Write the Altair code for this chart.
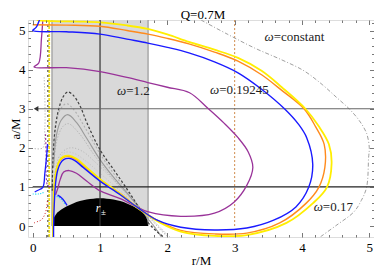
import altair as alt
import pandas as pd

# ---------------- data ----------------
title_text = "Q=0.7M"
x_title = "r/M"
y_title = "a/M"
x_labels = [0, 1, 2, 3, 4, 5]
y_labels = [0, 1, 2, 3, 4, 5]
x_minor = [round(i * 0.2, 1) for i in range(26)]
y_minor = [round(i * 0.2, 1) for i in range(27)]

# region between horizons (grey band)
band_r = [0.286]
band_r2 = [1.714]
band_a = [0.0]
band_a2 = [5.27]

# black region
black_r = [0.286, 0.30, 0.35, 0.40, 0.50, 0.60, 0.70, 0.80, 0.90, 1.00, 1.10, 1.20, 1.30, 1.40, 1.50, 1.60, 1.65, 1.70, 1.714]
black_a = [0.0, 0.13, 0.31, 0.39, 0.50, 0.58, 0.64, 0.68, 0.70, 0.71, 0.70, 0.68, 0.64, 0.58, 0.50, 0.39, 0.31, 0.16, 0.0]

# coloured omega curves
yellow_r = [0.06, 0.3, 0.7, 1.0, 1.4, 1.71, 2.0, 2.32, 2.7, 3.05, 3.4, 3.7, 4.05, 4.25, 4.4, 4.44, 4.37, 4.16, 3.77, 3.18, 2.7, 2.2, 1.9, 1.57, 1.3, 1.0, 0.8, 0.65, 0.54, 0.45, 0.4, 0.36, 0.33, 0.31, 0.3, 0.3]
yellow_a = [5.27, 5.24, 5.23, 5.21, 5.13, 5.04, 4.9, 4.71, 4.51, 4.3, 3.97, 3.55, 3.0, 2.55, 2.09, 1.6, 0.99, 0.58, 0.08, -0.23, -0.25, -0.14, 0.08, 0.45, 0.82, 1.2, 1.5, 1.72, 1.8, 1.77, 1.68, 1.5, 1.2, 0.6, 0.0, -0.3]

orange_r = [0.0, 0.5, 1.0, 1.4, 1.71, 2.0, 2.32, 2.7, 3.05, 3.4, 3.7, 4.03, 4.2, 4.33, 4.34, 4.25, 4.06, 3.67, 3.18, 2.7, 2.2, 1.9, 1.57, 1.3, 1.0, 0.8, 0.65, 0.54, 0.45, 0.4, 0.36, 0.33, 0.31, 0.3, 0.3]
orange_a = [5.15, 5.14, 5.11, 5.0, 4.91, 4.8, 4.66, 4.45, 4.22, 3.87, 3.47, 3.0, 2.55, 2.09, 1.5, 0.99, 0.58, 0.08, -0.18, -0.2, -0.11, 0.1, 0.46, 0.83, 1.19, 1.48, 1.7, 1.78, 1.75, 1.66, 1.48, 1.18, 0.58, 0.0, -0.3]

blue_r = [0.10, 0.05, 0.0, 0.5, 1.0, 1.4, 1.71, 2.0, 2.32, 2.7, 3.05, 3.4, 3.74, 3.95, 4.07, 4.16, 4.1, 3.91, 3.58, 3.18, 2.7, 2.2, 1.85, 1.57, 1.3, 1.0, 0.75, 0.62, 0.54, 0.46, 0.41, 0.37, 0.34, 0.32, 0.31, 0.31]
blue_a = [5.27, 5.08, 5.0, 4.97, 4.91, 4.78, 4.68, 4.57, 4.43, 4.2, 3.92, 3.5, 3.0, 2.6, 2.26, 1.58, 0.99, 0.49, 0.15, -0.05, -0.1, -0.03, 0.15, 0.46, 0.8, 1.15, 1.5, 1.68, 1.73, 1.7, 1.6, 1.42, 1.1, 0.55, 0.0, -0.3]

purple_r = [0.15, 0.13, 0.09, 0.02, 0.5, 1.0, 1.4, 1.71, 2.0, 2.33, 2.61, 2.85, 3.05, 3.2, 3.27, 3.18, 2.99, 2.7, 2.2, 1.72, 1.3, 0.98, 0.8, 0.65, 0.54, 0.46, 0.41, 0.37, 0.34]
purple_a = [5.27, 4.8, 4.17, 4.07, 4.05, 3.95, 3.8, 3.67, 3.55, 3.41, 3.0, 2.62, 2.26, 1.9, 1.5, 1.04, 0.61, 0.33, 0.25, 0.36, 0.7, 0.92, 1.15, 1.35, 1.42, 1.38, 1.2, 0.95, 0.8]

# grey family inside the band
g1_r = [0.29, 0.30, 0.33, 0.38, 0.45, 0.52, 0.60, 0.70, 0.81, 1.0, 1.2, 1.38, 1.55, 1.71, 1.85, 1.96]
g1_a = [0.9, 1.68, 2.44, 2.95, 3.3, 3.43, 3.35, 3.08, 2.62, 1.95, 1.45, 1.0, 0.55, 0.1, -0.15, -0.3]
g2_r = [0.30, 0.34, 0.40, 0.50, 0.60, 0.80, 1.0, 1.2, 1.4, 1.6, 1.8, 1.93]
g2_a = [1.5, 2.5, 2.95, 3.13, 3.0, 2.45, 1.85, 1.35, 0.9, 0.45, 0.0, -0.3]
g3_r = [0.31, 0.35, 0.42, 0.52, 0.65, 0.8, 1.0, 1.2, 1.4, 1.6, 1.8, 1.92]
g3_a = [1.5, 2.3, 2.7, 2.85, 2.65, 2.25, 1.7, 1.25, 0.85, 0.42, 0.0, -0.3]
g4_r = [0.31, 0.36, 0.45, 0.53, 0.7, 0.9, 1.1, 1.3, 1.5, 1.7, 1.9, 2.02]
g4_a = [1.5, 2.2, 2.55, 2.62, 2.35, 1.85, 1.4, 1.0, 0.63, 0.28, -0.1, -0.3]
g5_r = [0.32, 0.40, 0.50, 0.60, 0.75, 0.9, 1.1, 1.3, 1.5, 1.7, 1.9, 2.05]
g5_a = [1.3, 1.8, 1.97, 2.0, 1.9, 1.68, 1.35, 1.0, 0.65, 0.3, -0.05, -0.3]
g6_r = [0.33, 0.40, 0.48, 0.6, 0.8, 1.0, 1.2, 1.4, 1.6, 1.8, 2.0]
g6_a = [1.3, 1.7, 1.88, 1.87, 1.65, 1.35, 1.05, 0.75, 0.45, 0.12, -0.25]

# omega = constant envelope
wc_r = [2.5, 2.9, 3.3, 3.7, 4.03, 4.3, 4.52, 4.7, 4.85, 4.96, 5.0, 4.99, 4.96, 4.88, 4.77, 4.52, 4.27]
wc_a = [5.27, 4.9, 4.55, 4.25, 3.97, 3.62, 3.28, 3.0, 2.7, 2.37, 2.0, 1.76, 0.99, 0.65, 0.36, 0.03, -0.28]

# small features near r = 0
blueL_r = [0.03, 0.07, 0.15, 0.18, 0.21, 0.22]
blueL_a = [0.87, 0.91, 0.99, 1.35, 1.86, 2.1]
blueH_r = [0.37, 0.43, 0.47, 0.51]
blueH_a = [0.79, 0.72, 0.64, 0.53]
cyanL_r = [0.0, 0.08, 0.14, 0.18]
cyanL_a = [0.82, 0.82, 0.84, 0.88]
cyanG_r = [0.32, 0.38, 0.44, 0.48]
cyanG_a = [0.78, 0.74, 0.66, 0.56]
red_r = [0.02, 0.08, 0.13, 0.18, 0.21, 0.22]
red_a = [0.08, 0.12, 0.16, 0.3, 0.5, 0.7]
purpD_r = [0.19, 0.2, 0.2, 0.22, 0.28]
purpD_a = [2.35, 1.8, 1.3, 1.05, 0.98]
greyL_r = [0.03, 0.15, 0.18, 0.18, 0.17]
greyL_a = [1.98, 2.0, 2.5, 3.3, 3.8]

# reference lines
h1_a = [1.0]; h1_r = [0.0]; h1_r2 = [5.07]
h3_a = [3.0]; h3_r = [0.05]; h3_r2 = [5.07]
v1_r = [1.0]; v1_a = [0.0]; v1_a2 = [5.27]
edge_r = [0.286, 1.714]
vy_r = [0.245]; vk_r = [0.225]; vfull_a = [-0.28]; vfull_a2 = [5.27]
v3_r = [3.0]; v3_a = [0.0]; v3_a2 = [5.27]

# text labels (split point after omega)
lab_r = [1.39, 2.77, 3.58, 4.31]
lab_a = [3.46, 3.49, 4.83, 0.48]
lab_rest = ["=1.2", "=0.19245", "=constant", "=0.17"]

# ---------------- chart ----------------
W, H = 346, 217
FONT = "Liberation Serif"
xs = alt.Scale(domain=[-0.07, 5.07], nice=False, zero=False)
ys = alt.Scale(domain=[-0.28, 5.27], nice=False, zero=False)
X = lambda f: alt.X(f, type="quantitative", scale=xs, axis=None)
Y = lambda f: alt.Y(f, type="quantitative", scale=ys, axis=None)


def curve(r, a, color, width=1.3, dash=None, op=1.0, interp="catmull-rom"):
    df = pd.DataFrame({"r": r, "a": a, "i": list(range(len(r)))})
    kw = dict(color=color, strokeWidth=width, clip=True, opacity=op, interpolate=interp)
    if dash:
        kw["strokeDash"] = dash
    return alt.Chart(df).mark_line(**kw).encode(x=X("r"), y=Y("a"), order="i:Q")


def vrule(r, a, a2, color, width=1.0, dash=None):
    n = len(r)
    df = pd.DataFrame({"r": r, "a": (a * n)[:n], "a2": (a2 * n)[:n]})
    kw = dict(color=color, strokeWidth=width, clip=True)
    if dash:
        kw["strokeDash"] = dash
    return alt.Chart(df).mark_rule(**kw).encode(x=X("r"), y=Y("a"), y2="a2")


def hrule(a, r, r2, color, width=1.0):
    df = pd.DataFrame({"a": a, "r": r, "r2": r2})
    return alt.Chart(df).mark_rule(color=color, strokeWidth=width, clip=True).encode(
        y=Y("a"), x=X("r"), x2="r2")


band = alt.Chart(pd.DataFrame({"r": band_r, "r2": band_r2, "a": band_a, "a2": band_a2})).mark_rect(
    color="#d9d9d9").encode(x=X("r"), x2="r2", y=Y("a"), y2="a2")

black = alt.Chart(pd.DataFrame({"r": black_r, "a": black_a, "z": [0.0] * len(black_r)})).mark_area(
    color="black", interpolate="monotone").encode(x=X("r"), y=Y("a"), y2="z")

arrow = alt.Chart(pd.DataFrame({"r": h3_r, "a": h3_a})).mark_point(
    shape="triangle-left", filled=True, color="#333", size=28, opacity=1).encode(x=X("r"), y=Y("a"))

labdf = pd.DataFrame({"r": lab_r, "a": lab_a, "w": ["ω"] * 4, "t": lab_rest})
omega = alt.Chart(labdf).mark_text(font=FONT, fontSize=13, fontStyle="italic", align="right",
                                   baseline="middle", color="#222").encode(x=X("r"), y=Y("a"), text="w:N")
rest = alt.Chart(labdf).mark_text(font=FONT, fontSize=13, align="left", baseline="middle",
                                  color="#222").encode(x=X("r"), y=Y("a"), text="t:N")
rpm = alt.Chart(pd.DataFrame({"r": [0.97], "a": [0.47], "t": ["r"]})).mark_text(
    font=FONT, fontSize=12, fontStyle="italic", color="white", baseline="middle").encode(
    x=X("r"), y=Y("a"), text="t:N")
rpm2 = alt.Chart(pd.DataFrame({"r": [1.05], "a": [0.37], "t": ["±"]})).mark_text(
    font=FONT, fontSize=9, color="white", baseline="middle").encode(x=X("r"), y=Y("a"), text="t:N")

# chart title as a text mark just above the frame
title_mark = alt.Chart(pd.DataFrame({"t": [title_text]})).mark_text(
    font=FONT, fontSize=13, color="black", baseline="alphabetic", align="center").encode(
    x=alt.value(W / 2 + 2), y=alt.value(-1), text="t:N")

# axes layers
anchor = pd.DataFrame({"r": [0.0], "a": [0.0]})
lab_axis_x = alt.Axis(orient="bottom", values=x_labels, ticks=False, tickSize=0, domain=False, grid=False,
                      labelFont=FONT, labelFontSize=13, labelColor="black", labelPadding=4, labelFlush=False,
                      titleFont=FONT, titleFontSize=13, titleFontWeight="normal", titleColor="black",
                      titleY=27, titleBaseline="alphabetic")
lab_axis_y = alt.Axis(orient="left", values=y_labels, ticks=False, tickSize=0, domain=False, grid=False,
                      labelFont=FONT, labelFontSize=13, labelColor="black", labelPadding=3, labelFlush=False,
                      titleFont=FONT, titleFontSize=13, titleFontWeight="normal", titleColor="black",
                      titleX=-9, titleY=H / 2, titleBaseline="alphabetic")
lab_layer = alt.Chart(anchor).mark_point(opacity=0).encode(
    x=alt.X("r:Q", scale=xs, title=x_title, axis=lab_axis_x),
    y=alt.Y("a:Q", scale=ys, title=y_title, axis=lab_axis_y))

tick_size = {"condition": {"test": "abs(datum.value - round(datum.value)) < 0.001", "value": 4.5}, "value": 2.5}


def tick_axis(orient, offset, vals):
    return alt.Axis(orient=orient, offset=offset, values=vals, labels=False, domain=False, grid=False,
                    ticks=True, tickSize=tick_size, tickColor="#555", tickWidth=0.8, zindex=2)


tick1 = alt.Chart(anchor).mark_point(opacity=0).encode(
    x=alt.X("r:Q", scale=xs, title="", axis=tick_axis("top", -H, x_minor)),
    y=alt.Y("a:Q", scale=ys, title="", axis=tick_axis("right", -W, y_minor)))
tick2 = alt.Chart(anchor).mark_point(opacity=0).encode(
    x=alt.X("r:Q", scale=xs, title="", axis=tick_axis("bottom", -H, x_minor)),
    y=alt.Y("a:Q", scale=ys, title="", axis=tick_axis("left", -W, y_minor)))

layers = [
    lab_layer,
    band,
    vrule(edge_r, [0.0], [5.27], "#888", 1.0),
    curve(g6_r, g6_a, "#c4c4c4", 1.0, [1, 2]),
    curve(g5_r, g5_a, "#b4b4b4", 1.0, [1, 2]),
    curve(g4_r, g4_a, "#b8b8b8", 1.0, [1.5, 1.5]),
    curve(g3_r, g3_a, "#9a9a9a", 1.1),
    curve(g2_r, g2_a, "#b0b0b0", 1.1, [2, 2]),
    curve(g1_r, g1_a, "#404040", 1.2, [2.5, 2]),
    black,
    vrule(v1_r, v1_a, v1_a2, "#333", 1.2),
    vrule(v3_r, v3_a, v3_a2, "#d08a4a", 1.0, [2, 2]),
    vrule(vy_r, vfull_a, vfull_a2, "#f0e020", 1.8, [3, 1]),
    vrule(vk_r, vfull_a, vfull_a2, "#333", 1.0, [2, 3]),
    curve(greyL_r, greyL_a, "#a0a0a0", 1.0, [1, 2]),
    curve(wc_r, wc_a, "#a0a0a0", 1.0, [4, 2, 1, 2]),
    hrule(h3_a, h3_r, h3_r2, "#666", 1.1),
    hrule(h1_a, h1_r, h1_r2, "#222", 1.3),
    arrow,
    curve(red_r, red_a, "#cc2020", 1.0, [1, 2]),
    curve(cyanL_r, cyanL_a, "#00d8f0", 1.2, [1, 1.5]),
    curve(cyanG_r, cyanG_a, "#00d8f0", 1.2, [1, 1.5]),
    curve(purpD_r, purpD_a, "#993399", 1.1, [2, 2]),
    curve(blueL_r, blueL_a, "#1a1aff", 1.3),
    curve(blueH_r, blueH_a, "#1a1aff", 1.3),
    curve(purple_r, purple_a, "#993399", 1.3),
    curve(orange_r, orange_a, "#ff8a1c", 1.4),
    curve(yellow_r, yellow_a, "#ffee00", 1.8),
    curve(blue_r, blue_a, "#1a1aff", 1.4),
    omega, rest, rpm, rpm2,
    title_mark,
    tick1, tick2,
]

chart = alt.layer(*layers).resolve_axis(x="independent", y="independent").properties(
    width=W, height=H,
    autosize=alt.AutoSizeParams(type="none"),
    padding={"left": 20, "top": 12, "right": 0, "bottom": 29},
).configure_view(stroke="#666", strokeWidth=1).configure(background="white")

chart.save("out.html", embed_options={"renderer": "svg", "actions": False})
